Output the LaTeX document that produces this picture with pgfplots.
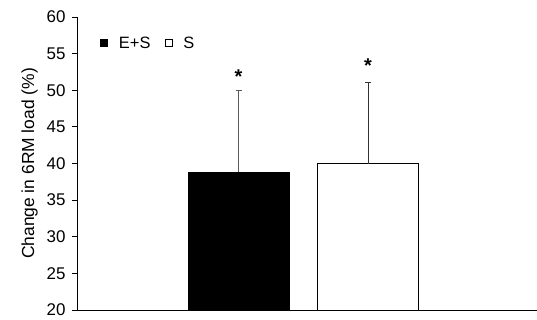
\documentclass[border=0pt]{standalone}
\usepackage{pgfplots}
\pgfplotsset{compat=1.18}
\usepackage{fontspec}
\setmainfont{Liberation Sans}
\begin{document}
\begin{tikzpicture}[x=1bp,y=1bp]
\useasboundingbox (0,0) rectangle (537,319);
\begin{axis}[
  at={(77bp,9bp)}, anchor=origin,
  scale only axis, width=460bp, height=293bp,
  xmin=0, xmax=460, ymin=20, ymax=60,
  axis x line=bottom, axis y line=left,
  axis line style={-, black, line width=0.9pt},
  ytick={20,25,...,60}, xtick=\empty,
  tick align=outside, major tick length=5bp,
  tick style={black, line width=0.8pt},
  /pgf/number format/assume math mode=true,
  tick label style={font=\fontsize{17}{17}\selectfont},
  yticklabel style={xshift=-3bp},
  ylabel={Change in 6RM load (\%)},
  ylabel style={font=\fontsize{17.5}{17.5}\selectfont, yshift=2bp},
  clip=false,
  legend style={draw=none, fill=none, at={(axis cs:23,56.4)}, anchor=west,
    font=\fontsize{16.5}{16.5}\selectfont, column sep=12bp, inner sep=0pt},
  legend columns=2,
  legend image code/.code={\draw[#1, line width=0.8pt] (0bp,-3.5bp) rectangle (7bp,3.5bp);},
  legend cell align=left,
]
\addplot[ybar, bar width=101, bar shift=0, fill=black, draw=black, line width=0.8pt,
  error bars/.cd, y dir=plus, y explicit,
  error bar style={gray!70!black, line width=0.9pt},
  error mark options={rotate=90, mark size=3bp, gray!70!black, line width=1pt}]
  coordinates {(161.5,38.85) +- (0,11.15)};
\addlegendentry{\hspace{-3bp}E+S}
\addplot[ybar, bar width=101, bar shift=0, fill=white, draw=black, line width=0.9pt,
  error bars/.cd, y dir=plus, y explicit,
  error bar style={black!80, line width=0.9pt},
  error mark options={rotate=90, mark size=3bp, black!80, line width=1pt}]
  coordinates {(291,40.0) +- (0,11.1)};
\addlegendentry{\hspace{-3bp}S}
\node[font=\fontsize{20}{20}\selectfont\bfseries] at (axis cs:161.5,51.8) {*};
\node[font=\fontsize{20}{20}\selectfont\bfseries] at (axis cs:291,53.4) {*};
\end{axis}
\end{tikzpicture}
\end{document}
